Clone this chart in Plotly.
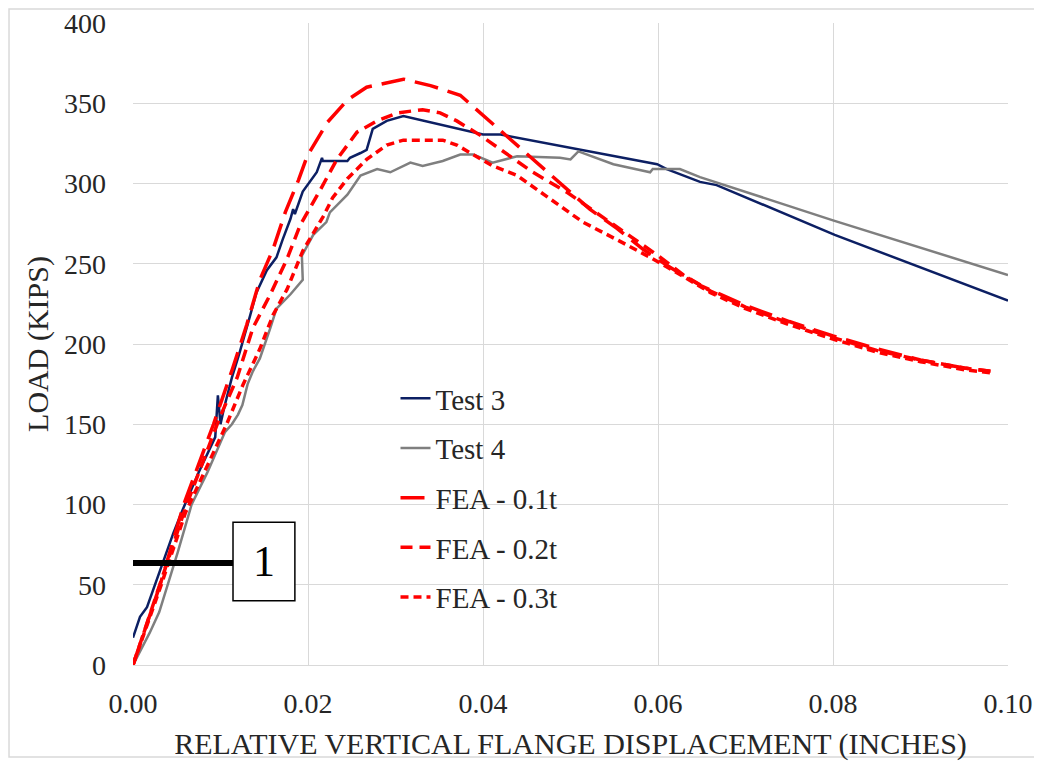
import plotly.graph_objects as go

# displacement (in) / load (kips)
test3_x = [0, 0.0008, 0.0016, 0.0027, 0.0033, 0.0046, 0.0057, 0.0075, 0.0094, 0.0097, 0.0100,
           0.0104, 0.0113, 0.0122, 0.0134, 0.0141, 0.0153, 0.0164, 0.0171, 0.0180, 0.0183, 0.0185,
           0.0194, 0.0199, 0.0210, 0.0216, 0.0217, 0.0245, 0.0248, 0.0260, 0.0267, 0.0274, 0.0290,
           0.0309, 0.0340, 0.0374, 0.0400, 0.0420, 0.0511, 0.0599, 0.0610, 0.0648, 0.0667, 0.0802, 0.1000]
test3_y = [17, 30, 36, 53, 63, 82, 97, 120, 142, 168, 150,
           160, 179, 195, 218, 232, 246, 254, 265, 278, 284, 281,
           295, 299, 307, 316, 314, 314, 316, 319, 321, 334, 339,
           342, 338, 334, 330.5, 330.5, 321, 312, 309, 301, 299, 268, 227]

test4_x = [0, 0.0019, 0.0030, 0.0040, 0.0051, 0.0067, 0.0085, 0.0105, 0.0113, 0.0120, 0.0125,
           0.0131, 0.0137, 0.0145, 0.0153, 0.0157, 0.0164, 0.0180, 0.0194, 0.0193, 0.0206, 0.0221,
           0.0225, 0.0245, 0.0260, 0.0279, 0.0294, 0.0317, 0.0331, 0.0354, 0.0374, 0.0389, 0.0411,
           0.0439, 0.0488, 0.0500, 0.0509, 0.0549, 0.0583, 0.0591, 0.0594, 0.0625, 0.0648, 0.0800, 0.1000]
test4_y = [0, 20, 33, 50, 70, 100, 120, 145, 150, 156, 162,
           175, 183, 191, 203, 210, 222, 231, 240, 255, 268, 276,
           282, 293, 305, 309, 307, 313, 311, 314, 318, 318, 313,
           317, 316, 315, 320, 312, 308, 307, 309, 309, 304, 277, 243]

fea1_x = [0, 0.0031, 0.0058, 0.0092, 0.0114, 0.0130, 0.0145, 0.0160, 0.0174, 0.0189, 0.0199,
          0.0222, 0.0245, 0.0267, 0.0309, 0.0340, 0.0374, 0.0405, 0.0439, 0.0469, 0.0496, 0.0522,
          0.0553, 0.0583, 0.0610, 0.0650, 0.0700, 0.0750, 0.0800, 0.0850, 0.0900, 0.0950, 0.0980]
fea1_y = [0, 50, 100, 150, 185, 212, 240, 259, 282, 302, 317,
          338, 352, 360, 365, 361, 355, 340, 324, 309, 296, 284,
          272, 259, 249, 236, 224, 214, 205, 197, 190, 185, 183]

fea2_x = [0, 0.0031, 0.0060, 0.0099, 0.0119, 0.0137, 0.0157, 0.0176, 0.0191, 0.0214, 0.0233,
          0.0256, 0.0279, 0.0302, 0.0331, 0.0351, 0.0370, 0.0397, 0.0420, 0.0457, 0.0496, 0.0534,
          0.0565, 0.0599, 0.0629, 0.0660, 0.0700, 0.0750, 0.0800, 0.0850, 0.0900, 0.0950, 0.0980]
fea2_y = [0, 50, 98, 154, 179, 210, 231, 253, 274, 296, 315,
          332, 339, 344, 346, 344, 339, 330, 321, 307, 294.5, 280,
          268, 255.5, 243, 233, 223, 213, 204, 196, 190, 185, 183]

fea3_x = [0, 0.0031, 0.0060, 0.0107, 0.0126, 0.0145, 0.0160, 0.0176, 0.0194, 0.0218, 0.0228,
          0.0245, 0.0267, 0.0290, 0.0309, 0.0331, 0.0354, 0.0370, 0.0389, 0.0411, 0.0439, 0.0477,
          0.0514, 0.0553, 0.0591, 0.0629, 0.0660, 0.0700, 0.0750, 0.0800, 0.0850, 0.0900, 0.0950, 0.0980]
fea3_y = [0, 48, 95, 150, 175, 197, 218, 234, 258, 280, 291,
          303, 315, 324, 327, 327, 327, 324, 318, 311, 305, 290,
          276, 265, 254, 242, 232, 222, 212, 203, 195, 189, 184, 182]

x_ticks = [0, 0.02, 0.04, 0.06, 0.08, 0.10]
y_ticks = [0, 50, 100, 150, 200, 250, 300, 350, 400]

serif = "Liberation Serif"
red = "#ff0000"
ink = "#262626"

fig = go.Figure()
series = [
    ("Test 3", test3_x, test3_y, "#0c1f63", 2.5, "solid"),
    ("Test 4", test4_x, test4_y, "#7f7f7f", 2.5, "solid"),
    ("FEA - 0.1t", fea1_x, fea1_y, red, 3.5, "24px,10px"),
    ("FEA - 0.2t", fea2_x, fea2_y, red, 3.5, "12px,7px"),
    ("FEA - 0.3t", fea3_x, fea3_y, red, 3.5, "8px,5px"),
]
for i, (name, xs, ys, col, w, dash) in enumerate(series):
    fig.add_trace(go.Scatter(x=xs, y=ys, mode="lines", name=name, legendgroup=str(i),
                             line=dict(color=col, width=w, dash=dash)))

# callout "1"
fig.add_shape(type="line", x0=0, x1=0.01143, y0=63.5, y1=63.5, line=dict(color="black", width=6))
fig.add_shape(type="rect", x0=0.01143, x1=0.0185, y0=40, y1=89,
              line=dict(color="black", width=1.5), fillcolor="white")
fig.add_annotation(x=0.01497, y=64.5, text="1", showarrow=False,
                   font=dict(family=serif, size=44, color="black"))

# chart border
fig.add_shape(type="rect", xref="paper", yref="paper", x0=-0.1417, x1=1.0343, y0=-0.1433, y1=1.0218,
              line=dict(color="#d9d9d9", width=1.5))

# the page body adds an 8px margin, so the figure is sized to fit inside the window
fig.update_layout(
    width=1034, height=753,
    margin=dict(l=125, r=34, t=15, b=96),
    paper_bgcolor="white", plot_bgcolor="white",
    font=dict(family=serif, color=ink),
    showlegend=True,
    legend=dict(x=0.3, y=0.455, xanchor="left", yanchor="top", tracegroupgap=9,
                font=dict(family=serif, size=29, color=ink), bgcolor="rgba(0,0,0,0)"),
    xaxis=dict(range=[0, 0.1], tickvals=x_ticks, tickformat=".2f", showgrid=True, gridcolor="#d9d9d9",
               gridwidth=1, zeroline=False, showline=True, linecolor="#d9d9d9", automargin=False,
               ticks="", ticklabelstandoff=13, tickfont=dict(size=28), ticklabeloverflow="allow",
               title=dict(text="RELATIVE VERTICAL FLANGE DISPLACEMENT (INCHES)", font=dict(size=30), standoff=15)),
    yaxis=dict(range=[0, 400], tickvals=y_ticks, showgrid=True, gridcolor="#d9d9d9", gridwidth=1,
               zeroline=False, ticks="", ticklabelstandoff=26, tickfont=dict(size=28), automargin=False,
               ticklabeloverflow="allow",
               title=dict(text="LOAD (KIPS)", font=dict(size=30), standoff=6)),
)

fig.write_html("out.html")
